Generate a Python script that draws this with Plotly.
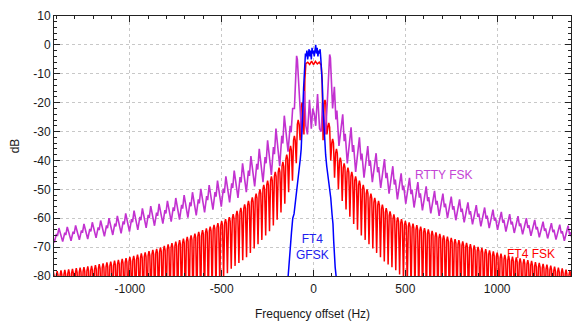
import plotly.graph_objects as go

# ---------------------------------------------------------------------------
# Axis ticks
# ---------------------------------------------------------------------------
X_TICKS = [-1000, -500, 0, 500, 1000]
X_TICK_TEXT = ["-1000", "-500", "0", "500", "1000"]
Y_TICKS = [10, 0, -10, -20, -30, -40, -50, -60, -70, -80]
Y_TICK_TEXT = ["10", "0", "-10", "-20", "-30", "-40", "-50", "-60", "-70", "-80"]

# ---------------------------------------------------------------------------
# FT4 FSK spectrum (red): central tone block plus a comb of side lobes
# spaced by the FT4 tone spacing.  Lobe k sits at k * spacing, its null at
# (k + 0.5) * spacing.
# ---------------------------------------------------------------------------
FT4_SPACING_HZ = 20.833
FT4_FIRST_LOBE = 3

FT4_FSK_CORE_HZ = [-52.1, -47, -41.7, -31.3, -20.8, -10.4, 0, 10.4, 20.8, 31.3, 41.7, 47, 52.1]
FT4_FSK_CORE_DB = [-31, -12, -6.5, -6.0, -6.8, -5.6, -6.8, -5.7, -6.6, -6.0, -7.0, -12, -33]

FT4_FSK_PEAK_POS_DB = [
    -19, -27, -32.5, -36, -39, -41, -42.5, -44, -45.5, -47,
    -48.5, -50, -51.5, -53, -54, -55.3, -56.5, -57.6, -58.7, -59.7,
    -60.3, -60.9, -61.4, -61.9, -62.4, -62.9, -63.4, -63.9, -64.4, -64.9,
    -65.4, -65.9, -66.4, -66.8, -67.2, -67.6, -68.0, -68.5, -69.0, -69.4,
    -69.9, -70.3, -70.7, -71.1, -71.5, -71.9, -72.3, -72.7, -73.0, -73.3,
    -73.6, -73.9, -74.2, -74.5, -74.8, -75.2, -75.5, -75.8, -76.1, -76.4,
    -76.8, -77.1, -77.4, -77.8, -78.1, -78.4,
]
FT4_FSK_NULL_POS_DB = [
    -31, -40, -46, -50, -54, -57, -59.5, -62, -64, -66,
    -67.5, -69, -70.5, -72, -73.5, -75, -76, -77, -78, -79.5,
    -81, -83, -85, -86, -87, -88, -89, -90, -90, -90,
    -90, -90, -90, -90, -90, -90, -90, -90, -90, -90,
    -90, -90, -90, -90, -90, -90, -90, -90, -90, -90,
    -90, -90, -90, -90, -90, -90, -90, -90, -90, -90,
    -90, -90, -90, -90, -90, -90,
]
FT4_FSK_PEAK_NEG_DB = [
    -20, -26, -31.5, -35, -38, -40.5, -42.5, -44, -45.5, -47,
    -48.5, -50, -51.5, -52.8, -54, -55.2, -56.4, -57.5, -58.6, -59.6,
    -60.3, -61.0, -61.7, -62.3, -62.9, -63.5, -64.1, -64.7, -65.3, -65.9,
    -66.5, -67.1, -67.6, -68.1, -68.6, -69.1, -69.6, -70.1, -70.6, -71.0,
    -71.4, -71.8, -72.2, -72.6, -73.0, -73.4, -73.8, -74.1, -74.4, -74.7,
    -75.0, -75.3, -75.6, -75.9, -76.2, -76.5, -76.7, -76.9, -77.1, -77.3,
    -77.5, -77.7, -77.9, -78.1, -78.3, -78.5,
]
FT4_FSK_NULL_NEG_DB = [
    -33, -41, -47, -51, -55, -58, -60.5, -62.5, -64.5, -66,
    -67.5, -69, -70.5, -72, -73.5, -74.5, -75.5, -76.5, -77.5, -79,
    -81, -83, -85, -86, -87, -88, -89, -90, -90, -90,
    -90, -90, -90, -90, -90, -90, -90, -90, -90, -90,
    -90, -90, -90, -90, -90, -90, -90, -90, -90, -90,
    -90, -90, -90, -90, -90, -90, -90, -90, -90, -90,
    -90, -90, -90, -90, -90, -90,
]

# ---------------------------------------------------------------------------
# RTTY FSK spectrum (magenta): the two tones at +/-85 Hz, then lobes every
# 45.45 Hz (45.45 baud) from 113.6 Hz outwards on each side.
# ---------------------------------------------------------------------------
RTTY_LOBE_HZ = 45.45
RTTY_FIRST_LOBE_HZ = 113.6

RTTY_CORE_HZ = [-104, -97, -92, -88, -82, -75, -65, -56, -49, -42, -33, -22, -12, -4,
                4, 12, 22, 33, 42, 49, 56, 65, 75, 82, 88, 92, 97, 104]
RTTY_CORE_DB = [-22, -8, -3.8, -5, -11, -22, -31, -22, -16, -28, -31, -19, -29, -22,
                -24, -28, -17, -29, -30, -20, -25, -31, -20, -10, -3.3, -4.5, -10, -22]

RTTY_PEAK_POS_DB = [
    -14.5, -24, -28.5, -32, -35, -37.5, -39.5, -42, -44.5, -46,
    -47.5, -49, -50.5, -51.5, -52.5, -53.5, -54.5, -55.5, -56.3, -57,
    -57.8, -58.6, -59.3, -60, -60.6, -61.2, -61.7, -62.2, -62.6, -63,
]
RTTY_TROUGH_POS_DB = [
    -35, -41, -44, -46, -47.5, -49.5, -51.5, -53.5, -55, -56.3,
    -57.3, -58.3, -59.2, -60, -60.7, -61.4, -62.1, -62.8, -63.4, -64,
    -64.6, -65.1, -65.6, -66.1, -66.6, -67, -67.4, -67.8, -68.2, -68.5,
]
RTTY_PEAK_NEG_DB = [
    -22, -24.5, -29, -33, -36, -38.5, -41, -43.5, -45.5, -47,
    -48.5, -49.8, -51, -52, -53, -54, -55, -55.8, -56.6, -57.4,
    -58.3, -59.2, -60, -60.8, -61.4, -62, -62.5, -63, -63.4, -63.8,
]
RTTY_TROUGH_NEG_DB = [
    -37, -42, -45, -47.5, -49, -51, -53, -54.5, -56, -57,
    -58, -59, -59.8, -60.5, -61.2, -61.9, -62.6, -63.3, -64, -64.6,
    -65.2, -65.8, -66.3, -66.8, -67.2, -67.5, -67.8, -68.1, -68.4, -68.7,
]

# ---------------------------------------------------------------------------
# FT4 GFSK spectrum (blue)
# ---------------------------------------------------------------------------
GFSK_HZ = [-150, -140, -133, -126, -120, -113, -106, -100, -94, -87,
           -80, -72, -67, -62, -58, -54, -50, -47, -44, -40,
           -36, -32, -28, -24, -20, -16, -12, -8, -4, 0,
           4, 8, 12, 16, 20, 24, 28, 32, 36, 40,
           44, 48, 52, 56, 60, 66, 72, 80, 87, 94,
           101, 106, 110, 114, 118, 123, 130]
GFSK_DB = [-90, -80, -76, -70, -65, -60, -58.5, -55.5, -52, -48,
           -44, -39.5, -36, -30, -22, -15, -9, -5, -3, -4,
           -2, -5, -3, -1.5, -4, -2, -5, -1, -3, -2,
           -4, -1, 0, -3, -1, -4, -2, -3, -1.5, -5,
           -8, -14, -22, -28, -34, -38, -42, -46, -48.6, -53,
           -58.7, -62, -68, -74.6, -77, -80, -90]

RED = "#ff0000"
MAGENTA = "#c232d0"
BLUE = "#0000ff"
FONT = "Liberation Sans, Arial, sans-serif"


def ft4_side(sign, peaks, nulls):
    """Side-lobe comb on one side of the carrier, ordered outward."""
    xs, ys = [], []
    for i, (pk, nl) in enumerate(zip(peaks, nulls)):
        fc = (FT4_FIRST_LOBE + i) * FT4_SPACING_HZ
        xs += [fc - 0.22 * FT4_SPACING_HZ, fc, fc + 0.22 * FT4_SPACING_HZ, fc + 0.5 * FT4_SPACING_HZ]
        ys += [pk - 1.5, pk, pk - 1.5, nl]
    return [sign * x for x in xs], ys


def rtty_side(sign, peaks, troughs):
    xs, ys = [], []
    for i, (pk, tr) in enumerate(zip(peaks, troughs)):
        fc = RTTY_FIRST_LOBE_HZ + i * RTTY_LOBE_HZ
        d = pk - tr
        xs += [fc, fc + 0.18 * RTTY_LOBE_HZ, fc + 0.3 * RTTY_LOBE_HZ, fc + 0.55 * RTTY_LOBE_HZ]
        ys += [pk, pk - 0.55 * d, pk - 0.4 * d, tr]
    return [sign * x for x in xs], ys


# assemble full traces from negative to positive frequency
rx_n, ry_n = ft4_side(-1, FT4_FSK_PEAK_NEG_DB, FT4_FSK_NULL_NEG_DB)
rx_p, ry_p = ft4_side(1, FT4_FSK_PEAK_POS_DB, FT4_FSK_NULL_POS_DB)
ft4_x = rx_n[::-1] + FT4_FSK_CORE_HZ + rx_p
ft4_y = ry_n[::-1] + FT4_FSK_CORE_DB + ry_p

mx_n, my_n = rtty_side(-1, RTTY_PEAK_NEG_DB, RTTY_TROUGH_NEG_DB)
mx_p, my_p = rtty_side(1, RTTY_PEAK_POS_DB, RTTY_TROUGH_POS_DB)
rtty_x = mx_n[::-1] + RTTY_CORE_HZ + mx_p
rtty_y = my_n[::-1] + RTTY_CORE_DB + my_p

fig = go.Figure()
fig.add_trace(go.Scatter(x=ft4_x, y=ft4_y, mode="lines",
                         line=dict(color=RED, width=1.5), name="FT4 FSK"))
fig.add_trace(go.Scatter(x=rtty_x, y=rtty_y, mode="lines",
                         line=dict(color=MAGENTA, width=1.6), name="RTTY FSK"))
fig.add_trace(go.Scatter(x=GFSK_HZ, y=GFSK_DB, mode="lines",
                         line=dict(color=BLUE, width=1.5), name="FT4 GFSK"))

label_font = dict(family=FONT, size=12)
fig.add_annotation(x=712, y=-45.0, text="RTTY FSK", showarrow=False,
                   font=dict(label_font, color="#c444d4"))
fig.add_annotation(x=1185, y=-72.5, text="FT4 FSK", showarrow=False,
                   font=dict(label_font, color=RED))
fig.add_annotation(x=-3, y=-69.8, text="FT4<br>GFSK", showarrow=False,
                   font=dict(label_font, color="#2020ee"))

axis_common = dict(
    showline=True, linecolor="#222222", linewidth=1, mirror="allticks",
    ticks="inside", ticklen=6, tickcolor="#222222", tickwidth=1,
    showgrid=True, gridcolor="#c8c8c8", griddash="dot", gridwidth=1,
    zeroline=False,
    tickfont=dict(family=FONT, size=12, color="#1a1a1a"),
)

fig.update_layout(
    width=581, height=329,
    margin=dict(l=54, r=9, t=10, b=53),
    paper_bgcolor="white", plot_bgcolor="white",
    showlegend=False,
    font=dict(family=FONT, size=12, color="#1a1a1a"),
    xaxis=dict(axis_common, range=[-1413, 1402], tickmode="array",
               tickvals=X_TICKS, ticktext=X_TICK_TEXT, ticklabelstandoff=2,
               minor=dict(ticks="inside", dtick=100, ticklen=3, tickcolor="#222222", showgrid=False),
               title=dict(text="Frequency offset (Hz)", font=dict(family=FONT, size=12), standoff=14)),
    yaxis=dict(axis_common, range=[-80, 10], tickmode="array",
               tickvals=Y_TICKS, ticktext=Y_TICK_TEXT,
               minor=dict(ticks="inside", dtick=2, ticklen=3, tickcolor="#222222", showgrid=False),
               title=dict(text="dB", font=dict(family=FONT, size=12), standoff=11)),
)

fig.write_html("out.html")
